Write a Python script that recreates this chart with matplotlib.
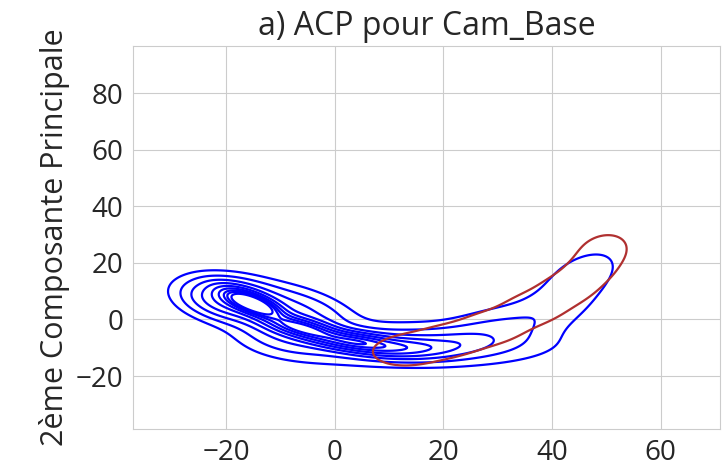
import numpy as np
import matplotlib
matplotlib.use("Agg")
import matplotlib.pyplot as plt
import seaborn as sns

# --- DONNEES ---
# densité de Cam_Base dans le plan ACP : mélange de gaussiennes le long de la crête
# (centre x, centre y, écart-type long., écart-type transv., angle, hauteur)
bleu_x = [-15.0, -19.0, -6.0, -6.0, 4.0, 13.0, 22.0, 14.0, -10.0, 29.0, 41.0, 46.0]
bleu_y = [5.5, 7.0, 3.0, -3.0, -8.0, -10.0, -9.0, -9.0, -4.5, -3.0, 5.0, 17.0]
bleu_sa = [4.0, 5.5, 7.0, 5.0, 5.0, 5.0, 5.0, 14.0, 6.0, 7.0, 9.0, 6.0]
bleu_sc = [1.7, 4.0, 4.0, 2.0, 2.0, 2.2, 2.4, 4.5, 4.0, 4.5, 4.5, 3.5]
bleu_ang = [-43.0, -33.0, -40.0, -28.0, -15.0, -3.0, 10.0, 0.0, -35.0, 32.0, 58.0, 60.0]
bleu_h = [1.0, 0.35, 0.12, 0.6, 0.5, 0.22, 0.06, 0.12, 0.1, 0.055, 0.045, 0.04]

# second groupe (contour rouge) : gaussiennes le long d'une courbe
rouge_x = [13.0, 21.0, 29.0, 36.5, 42.5, 47.0, 49.5]
rouge_y = [-11.0, -7.5, -2.8, 3.8, 10.5, 17.5, 24.5]
rouge_sa = [4.5, 4.5, 4.5, 4.5, 4.5, 4.5, 4.0]
rouge_sc = [3.8, 3.8, 3.8, 3.6, 3.3, 3.0, 2.8]
rouge_ang = [14.0, 25.0, 38.0, 46.0, 54.0, 64.0, 72.0]
rouge_h = [1.0, 1.0, 1.0, 1.0, 1.0, 1.0, 1.0]
rouge_niveau = 0.3   # fraction du maximum

niveaux_prop = np.linspace(0.05, 1, 10)

# --- DENSITES ---
xx, yy = np.meshgrid(np.linspace(-40, 75, 460), np.linspace(-40, 100, 460))


def melange(cxs, cys, sas, scs, angs, hs):
    d = np.zeros_like(xx)
    for cx, cy, sa, sc, ang, h in zip(cxs, cys, sas, scs, angs, hs):
        t = np.deg2rad(ang)
        dx, dy = xx - cx, yy - cy
        u = dx * np.cos(t) + dy * np.sin(t)
        v = -dx * np.sin(t) + dy * np.cos(t)
        d += h * np.exp(-0.5 * ((u / sa) ** 2 + (v / sc) ** 2))
    return d


dens_b = melange(bleu_x, bleu_y, bleu_sa, bleu_sc, bleu_ang, bleu_h)
dens_r = melange(rouge_x, rouge_y, rouge_sa, rouge_sc, rouge_ang, rouge_h)

# niveaux iso-proportion (comme seaborn)
vals = np.sort(dens_b.ravel())[::-1]
cum = np.cumsum(vals) / vals.sum()
levels = vals[np.clip(np.searchsorted(cum, 1 - niveaux_prop), 0, len(vals) - 1)]
levels = np.unique(levels)

# --- GRAPHIQUE ---
sns.set_style("whitegrid")
plt.rcParams['font.family'] = ['Open Sans', 'DejaVu Sans']

fig = plt.figure(figsize=(7.24, 4.71), dpi=100)
ax = fig.add_axes([0.1837, 0.0892, 0.8108, 0.8131])

ax.contour(xx, yy, dens_b, levels=levels[:-1], colors='blue', linewidths=1.6)
ax.contour(xx, yy, dens_r, levels=[rouge_niveau * dens_r.max()], colors='#b03030', linewidths=1.6)

ax.set_xlim(-37.1, 70.9)
ax.set_ylim(-38.7, 96.6)
ax.set_xticks([-20, 0, 20, 40, 60])
ax.set_yticks([-20, 0, 20, 40, 60, 80])
ax.tick_params(labelsize=20, colors='.15')
ax.set_title('a) ACP pour Cam_Base', fontsize=23, color='.15', pad=8)
ax.set_ylabel('2ème Composante Principale', fontsize=22, color='.15')

fig.savefig('out.png', dpi=100)
